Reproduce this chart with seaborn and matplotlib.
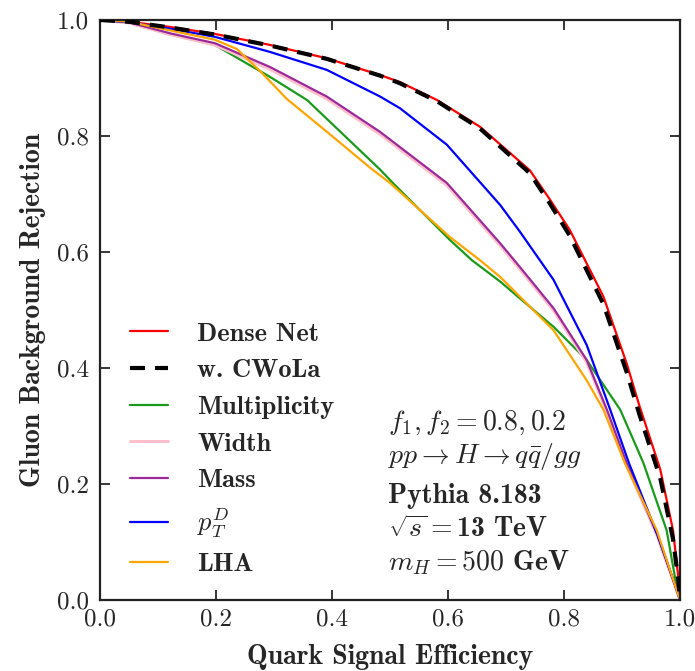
import numpy as np
import pandas as pd
import matplotlib
matplotlib.use("Agg")
import matplotlib.pyplot as plt
import seaborn as sns

# ---- data ----
dense_x = [0.0, 0.05, 0.121, 0.198, 0.293, 0.391, 0.483, 0.517, 0.581, 0.655, 0.741, 0.776, 0.810, 0.868, 0.908, 0.930, 0.966, 0.988, 0.997, 1.0]
dense_y = [1.0, 0.997, 0.988, 0.976, 0.957, 0.934, 0.905, 0.893, 0.862, 0.816, 0.741, 0.690, 0.638, 0.523, 0.408, 0.335, 0.225, 0.12, 0.04, 0.0]

cwola_x = [0.0, 0.05, 0.121, 0.198, 0.293, 0.391, 0.483, 0.517, 0.581, 0.655, 0.741, 0.776, 0.810, 0.868, 0.908, 0.930, 0.966, 0.988, 0.997, 1.0]
cwola_y = [1.0, 0.997, 0.987, 0.975, 0.956, 0.933, 0.904, 0.891, 0.860, 0.813, 0.736, 0.683, 0.628, 0.510, 0.393, 0.320, 0.210, 0.105, 0.035, 0.0]

mult_x = [0.0, 0.05, 0.121, 0.198, 0.293, 0.357, 0.483, 0.505, 0.603, 0.641, 0.69, 0.724, 0.782, 0.839, 0.897, 0.937, 0.977, 0.993, 1.0]
mult_y = [1.0, 0.995, 0.975, 0.957, 0.902, 0.862, 0.742, 0.719, 0.621, 0.586, 0.549, 0.520, 0.471, 0.414, 0.328, 0.236, 0.12, 0.03, 0.0]

width_x = [0.0, 0.05, 0.121, 0.198, 0.293, 0.391, 0.483, 0.598, 0.69, 0.724, 0.782, 0.839, 0.874, 0.908, 0.96, 0.99, 1.0]
width_y = [1.0, 0.995, 0.975, 0.957, 0.915, 0.864, 0.803, 0.715, 0.611, 0.570, 0.499, 0.410, 0.324, 0.232, 0.112, 0.028, 0.0]

mass_x = [0.0, 0.05, 0.121, 0.198, 0.293, 0.391, 0.483, 0.598, 0.69, 0.724, 0.782, 0.839, 0.874, 0.908, 0.96, 0.99, 1.0]
mass_y = [1.0, 0.996, 0.977, 0.960, 0.919, 0.868, 0.807, 0.719, 0.615, 0.574, 0.503, 0.414, 0.328, 0.236, 0.115, 0.03, 0.0]

ptd_x = [0.0, 0.05, 0.121, 0.198, 0.293, 0.391, 0.483, 0.517, 0.598, 0.69, 0.724, 0.782, 0.839, 0.879, 0.912, 0.962, 0.99, 1.0]
ptd_y = [1.0, 0.996, 0.985, 0.971, 0.945, 0.914, 0.868, 0.848, 0.785, 0.681, 0.635, 0.552, 0.440, 0.330, 0.236, 0.11, 0.03, 0.0]

lha_x = [0.0, 0.05, 0.121, 0.198, 0.236, 0.276, 0.322, 0.40, 0.466, 0.5, 0.603, 0.655, 0.69, 0.724, 0.782, 0.839, 0.868, 0.905, 0.96, 0.99, 1.0]
lha_y = [1.0, 0.997, 0.982, 0.966, 0.950, 0.912, 0.864, 0.800, 0.745, 0.719, 0.626, 0.586, 0.557, 0.523, 0.465, 0.379, 0.328, 0.236, 0.12, 0.03, 0.0]

series_labels = ["Dense Net", "w. CWoLa", "Multiplicity", "Width", "Mass", r"$p_T^D$", "LHA"]
x_ticks = [0.0, 0.2, 0.4, 0.6, 0.8, 1.0]
y_ticks = [0.0, 0.2, 0.4, 0.6, 0.8, 1.0]
info_lines = [r"$f_1, f_2 = 0.8, 0.2$",
              r"$pp \rightarrow H \rightarrow q\bar{q}/gg$",
              "Pythia 8.183",
              r"$\sqrt{s} = $13 TeV",
              r"$m_H = 500$ GeV"]

# ---- style ----
sns.set_style("ticks")
plt.rcParams.update({
    "mathtext.fontset": "cm",
    "font.family": ["cmr10", "DejaVu Serif"],
    "axes.formatter.use_mathtext": True,
    "xtick.direction": "in",
    "ytick.direction": "in",
    "xtick.top": True,
    "ytick.right": True,
    "xtick.major.size": 7,
    "ytick.major.size": 7,
    "xtick.major.width": 1.3,
    "ytick.major.width": 1.3,
    "axes.linewidth": 1.6,
    "axes.edgecolor": "#222222",
})

fig = plt.figure(figsize=(6.95, 6.71), dpi=100)
ax = fig.add_axes([100/695, 71/671, 580/695, 580/671])

curves = [
    (dense_x, dense_y, "red", "-", 1.6),
    (cwola_x, cwola_y, "black", "--", 3.0),
    (mult_x, mult_y, "#1a9a1a", "-", 1.6),
    (width_x, width_y, "pink", "-", 2.2),
    (mass_x, mass_y, "#9a2a9a", "-", 1.6),
    (ptd_x, ptd_y, "blue", "-", 1.6),
    (lha_x, lha_y, "orange", "-", 1.6),
]

for (xs, ys, col, ls, lw), lab in zip(curves, series_labels):
    df = pd.DataFrame({"x": xs, "y": ys})
    sns.lineplot(data=df, x="x", y="y", ax=ax, color=col, linewidth=lw,
                 label=lab, estimator=None, sort=False)
    line = ax.get_lines()[-1]
    if ls == "--":
        line.set_dashes([3.6, 2.4])
        line.set_zorder(3)

ax.set_xlim(0, 1)
ax.set_ylim(0, 1)
ax.set_xticks(x_ticks)
ax.set_yticks(y_ticks)
ax.set_xticklabels([f"{v:.1f}" for v in x_ticks], fontsize=18, family="cmr10")
ax.set_yticklabels([f"{v:.1f}" for v in y_ticks], fontsize=18, family="cmr10")
ax.tick_params(axis="x", pad=6)
ax.tick_params(axis="y", pad=8)

ax.set_xlabel("Quark Signal Efficiency", fontsize=20, family="cmb10", labelpad=10)
ax.set_ylabel("Gluon Background Rejection", fontsize=20, family="cmb10", labelpad=8)

leg = ax.legend(loc="lower left", bbox_to_anchor=(0.052, 0.041), frameon=False,
                prop={"family": "cmb10", "size": 19}, handlelength=1.44,
                handletextpad=1.1, labelspacing=0.5, borderaxespad=0, borderpad=0)

ys_info = [0.305, 0.247, 0.179, 0.121, 0.064]
for txt, yy in zip(info_lines, ys_info):
    ax.text(0.497, yy, txt, transform=ax.transAxes, fontsize=20,
            family="cmb10", va="center", ha="left")

fig.savefig("out.png", dpi=100)
